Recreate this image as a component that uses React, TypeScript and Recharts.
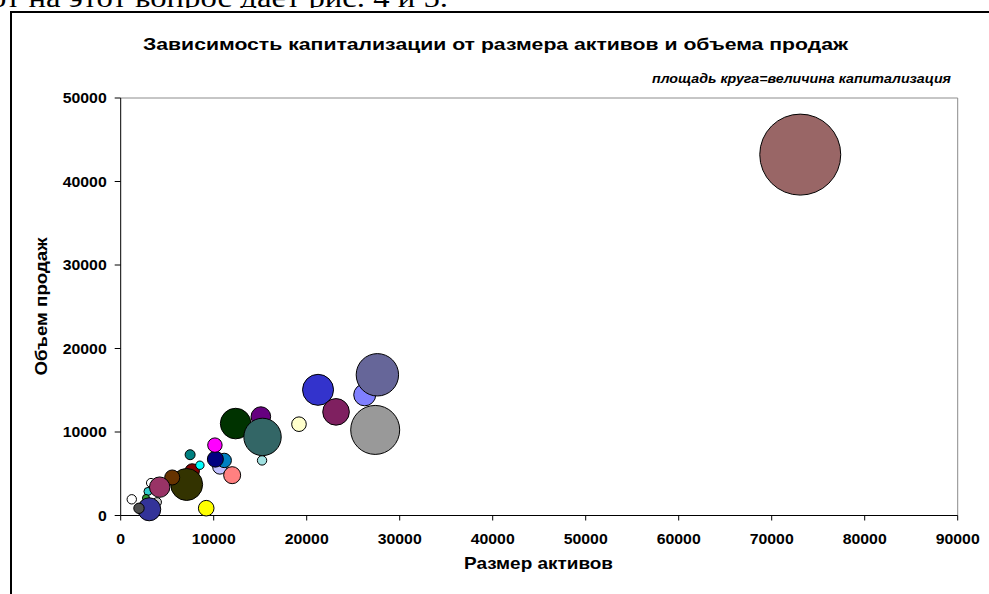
import React from "react";
import { ScatterChart, Scatter, XAxis, YAxis, ZAxis, Cell, ReferenceLine } from "recharts";

// Размер активов (x)
const assets = [73070, 26240, 27600, 27365, 21220, 23155, 19170, 15070, 12360, 15250, 15200, 10665, 11130, 10180, 10130, 11985, 7465, 7690, 8515, 7090, 5540, 3255, 2930, 4190, 9195, 3900, 2720, 3070, 1965, 1190];
// Объем продаж (y)
const sales = [43220, 14450, 16850, 10250, 15050, 12410, 10935, 11845, 11010, 9410, 6595, 5815, 6595, 6750, 8430, 4830, 7280, 5335, 6020, 3715, 4555, 3900, 2880, 3395, 875, 1600, 2100, 745, 865, 1940];
// Капитализация (bubble area)
const capitalization = [49200, 3630, 13480, 18010, 7210, 5310, 1600, 2880, 7020, 10490, 660, 1560, 1560, 1920, 1560, 2170, 750, 1560, 530, 7680, 1690, 610, 480, 3120, 1830, 610, 370, 3970, 810, 660];

const palette = ["#996666", "#8080FF", "#666699", "#999999", "#3333CC", "#7F2060", "#FFFFCC", "#660080", "#003300", "#336666", "#A0E0E0", "#C0C0FF", "#0080C0", "#000080", "#FF00FF", "#FF8080", "#008080", "#800000", "#00FFFF", "#333300", "#663300", "#FFFFFF", "#33CCCC", "#993366", "#FFFF00", "#CCCCCC", "#339933", "#333399", "#4D4D4D", "#FFFFFF"];

const xTicks = [0, 10000, 20000, 30000, 40000, 50000, 60000, 70000, 80000, 90000];
const yTicks = [0, 10000, 20000, 30000, 40000, 50000];

const titleText = "Зависимость капитализации от размера активов и объема продаж";
const subtitleText = "площадь круга=величина капитализация";
const xTitle = "Размер активов";
const yTitle = "Объем продаж";
const docText = "от на этот вопрос дает рис. 4 и 5.";

const data = assets.map((x, i) => ({ x, y: sales[i], z: capitalization[i] }));

const SANS = "'Liberation Sans', Arial, sans-serif";
const DIGIT_W = 8.8;

const XTick = (props: any) => {
  const { x, y, payload } = props;
  const s = String(payload.value);
  return (
    <text x={x - (s.length * DIGIT_W) / 2} y={y + 21.5} fontFamily={SANS} fontWeight="bold" fontSize={14} fill="#000"
      textLength={s.length * DIGIT_W} lengthAdjust="spacingAndGlyphs">{s}</text>
  );
};

const YTick = (props: any) => {
  const { x, y, payload } = props;
  const s = String(payload.value);
  return (
    <text x={x - s.length * DIGIT_W} y={y + 5} fontFamily={SANS} fontWeight="bold" fontSize={14} fill="#000"
      textLength={s.length * DIGIT_W} lengthAdjust="spacingAndGlyphs">{s}</text>
  );
};

export default function App() {
  return (
    <div style={{ position: "absolute", left: 0, top: 0, width: 989, height: 594, background: "#fff", overflow: "hidden" }}>
      <svg width={989} height={8} style={{ position: "absolute", left: 0, top: 0 }}>
        <text x={-10} y={7} fontFamily="'Liberation Serif', 'Times New Roman', serif" fontSize={28} fill="#000"
          textLength={458} lengthAdjust="spacingAndGlyphs">{docText}</text>
      </svg>
      <div style={{ position: "absolute", left: 10, top: 11, width: 1000, height: 620, borderLeft: "2px solid #000", borderTop: "2px solid #000", background: "#fff", boxSizing: "border-box" }} />
      <div style={{ position: "absolute", left: 0, top: 0 }}>
        <ScatterChart width={989} height={594} margin={{ top: 98, right: 31.3, bottom: 38.5, left: 60 }}>
          <XAxis type="number" dataKey="x" domain={[0, 90000]} ticks={xTicks} height={40} axisLine={{ stroke: "#000" }}
            tickLine={{ stroke: "#000" }} tickSize={5} tickMargin={2} tick={<XTick />} interval={0} />
          <YAxis type="number" dataKey="y" domain={[0, 50000]} ticks={yTicks} width={60.7} axisLine={{ stroke: "#000" }}
            tickLine={{ stroke: "#000" }} tickSize={6} tickMargin={8} tick={<YTick />} interval={0} />
          <ZAxis type="number" dataKey="z" domain={[0, 50000]} range={[0, (50000 * Math.PI) / 30]} />
          <ReferenceLine y={50000} stroke="#8c8c8c" strokeWidth={1} />
          <ReferenceLine x={90000} stroke="#8c8c8c" strokeWidth={1} />
          <Scatter data={data} isAnimationActive={false} stroke="#000" strokeWidth={1}>
            {data.map((d, i) => (
              <Cell key={i} fill={palette[i]} stroke="#000" strokeWidth={1} />
            ))}
          </Scatter>
        </ScatterChart>
      </div>
      <svg width={989} height={594} style={{ position: "absolute", left: 0, top: 0, pointerEvents: "none" }}>
        <text x={143} y={50} fontFamily={SANS} fontWeight="bold" fontSize={17} fill="#000" textLength={705} lengthAdjust="spacingAndGlyphs">{titleText}</text>
        <text x={652} y={83} fontFamily={SANS} fontWeight="bold" fontStyle="italic" fontSize={12.5} fill="#000" textLength={299} lengthAdjust="spacingAndGlyphs">{subtitleText}</text>
        <text x={464} y={569} fontFamily={SANS} fontWeight="bold" fontSize={17} fill="#000" textLength={149} lengthAdjust="spacingAndGlyphs">{xTitle}</text>
        <text transform="translate(47, 375.5) rotate(-90)" x={0} y={0} fontFamily={SANS} fontWeight="bold" fontSize={17} fill="#000" textLength={138} lengthAdjust="spacingAndGlyphs">{yTitle}</text>
      </svg>
    </div>
  );
}
